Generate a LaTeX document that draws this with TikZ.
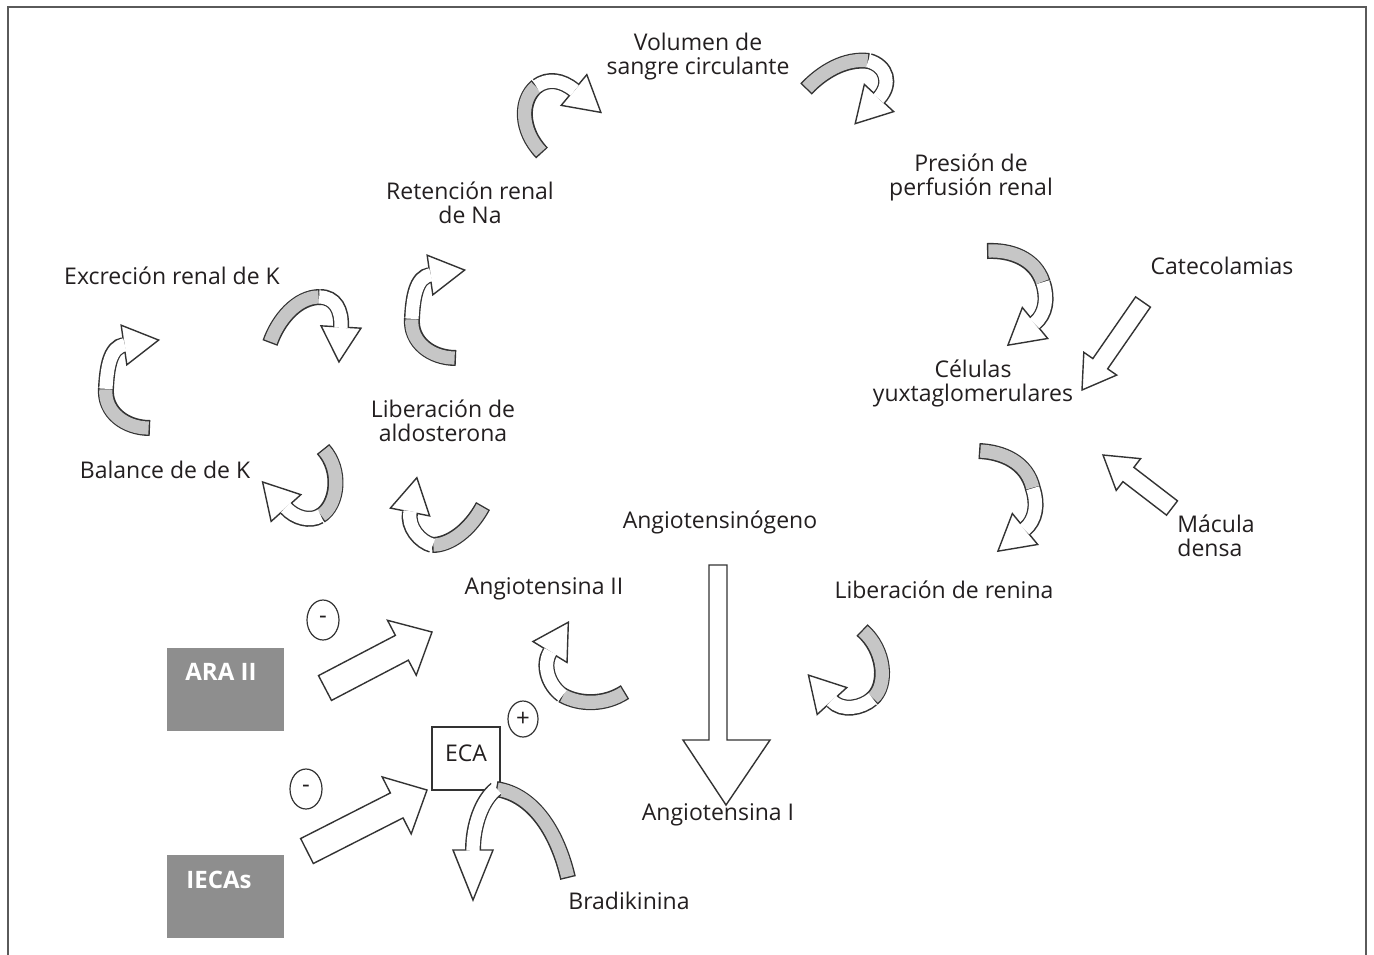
\documentclass[tikz,border=0pt]{standalone}
\usepackage{fontspec}
\setmainfont{Open Sans}
\usetikzlibrary{calc,shapes.geometric}
\definecolor{edgec}{HTML}{333333}
\definecolor{bandc}{HTML}{C6C6C6}
\definecolor{boxgray}{HTML}{8E8E8E}
\definecolor{txt}{HTML}{231F20}
\definecolor{framec}{HTML}{5A5A5A}
\newcommand\hlen{17.5pt}
\newcommand\hwid{10pt}
% curved ribbon arrow: S, c1, c2, M (gray part), c3, c4, B (white part + head)
\newcommand\carr[7]{%
  \draw[line width=8pt, edgec] (#1) .. controls (#2) and (#3) .. (#4);
  \draw[line width=6.6pt, bandc, shorten <=0.7pt, shorten >=0.7pt] (#1) .. controls (#2) and (#3) .. (#4);
  \draw[line width=8pt, edgec] (#4) .. controls (#5) and (#6) .. (#7);
  \draw[fill=white, draw=edgec, line width=0.7pt, line join=miter]
    ($(#7)!\hwid!90:(#6)$) -- ($(#7)!-\hlen!(#6)$) -- ($(#7)!\hwid!-90:(#6)$) -- cycle;
  \draw[line width=6.6pt, white, shorten <=-0.4pt, shorten >=-0.4pt] (#4) .. controls (#5) and (#6) .. (#7);
}
% straight block arrow: x1,y1 -> tip x2,y2, shaft half, head half, head length
\newcommand\sarr[7]{%
  \pgfmathsetmacro\sadx{#3-#1}%
  \pgfmathsetmacro\sady{#4-#2}%
  \pgfmathsetmacro\sal{veclen(\sadx,\sady)}%
  \pgfmathsetmacro\saux{\sadx/\sal}%
  \pgfmathsetmacro\sauy{\sady/\sal}%
  \pgfmathsetmacro\sabx{#3-#7*\saux}%
  \pgfmathsetmacro\saby{#4-#7*\sauy}%
  \draw[blockarr] ({#1+#5*\sauy},{#2-#5*\saux}) -- ({\sabx+#5*\sauy},{\saby-#5*\saux})
    -- ({\sabx+#6*\sauy},{\saby-#6*\saux}) -- (#3,#4) -- ({\sabx-#6*\sauy},{\saby+#6*\saux})
    -- ({\sabx-#5*\sauy},{\saby+#5*\saux}) -- ({#1-#5*\sauy},{#2+#5*\saux}) -- cycle;
}
\begin{document}
\begin{tikzpicture}[x=0.5pt,y=-0.5pt,
  lbl/.style={font=\fontsize{11.5}{12}\selectfont, text=txt, align=center, inner sep=0pt},
  boxlbl/.style={font=\fontsize{12}{14}\selectfont\bfseries, text=white, inner sep=0pt},
  graybox/.style={fill=boxgray, draw=none, minimum width=58.5pt, minimum height=41.5pt, inner sep=0pt},
  blockarr/.style={draw=edgec, fill=white, line width=0.7pt, line join=miter},
  sign/.style={draw=edgec, line width=0.6pt, ellipse, inner sep=0pt, font=\fontsize{12}{14}\selectfont, text=txt}]
\useasboundingbox (0,0) rectangle (1374,954);
\fill[white] (0,0) rectangle (1374,954);
\draw[framec, line width=1pt] (8,960) -- (8,7) -- (1366,7) -- (1366,960);

% texts
\node[lbl] (vol) at (698,57) {Volumen de\\sangre circulante};
\node[lbl] (pres) at (971,177) {Presión de\\perfusión renal};
\node[lbl] (ret) at (470,203) {Retención renal\\de Na};
\node[lbl] (exc) at (172,276) {Excreción renal de K};
\node[lbl] (cat) at (1222,266) {Catecolamias};
\node[lbl] (cel) at (973,383) {Células\\yuxtaglomerulares};
\node[lbl] (lib) at (443,421) {Liberación de\\aldosterona};
\node[lbl] (bal) at (165,470) {Balance de de K};
\node[lbl] (agn) at (720,522) {Angiotensinógeno};
\node[lbl, align=left, anchor=west] (mac) at (1177,536) {Mácula\\densa};
\node[lbl] (a2) at (544,589) {Angiotensina II};
\node[lbl] (ren) at (944,590) {Liberación de renina};
\node[lbl] (a1) at (718,815) {Angiotensina I};
\node[lbl] (bra) at (629,901) {Bradikinina};

% gray boxes
\node[graybox] (ara) at (225.5,689) {};
\node[boxlbl, anchor=west] (aralbl) at (185,672) {ARA II};
\node[graybox] (iec) at (225.5,896.5) {};
\node[boxlbl, anchor=west] (ieclbl) at (186,880) {IECAs};

% ECA box
\node[draw=edgec, fill=white, line width=0.7pt, minimum width=34pt, minimum height=31.5pt, inner sep=0pt] (eca) at (466,758.5) {};
\node[lbl] (ecat) at (466,753) {ECA};

% signs
\node[sign, minimum width=16pt, minimum height=20pt] (s1) at (323,620) {-};
\node[sign, minimum width=16pt, minimum height=20pt] (s2) at (306,789) {-};
\node[sign, minimum width=15pt, minimum height=18pt] (s3) at (523,719) {+};

% straight block arrows
\sarr{1143}{302}{1082}{390}{9}{20}{32}
\sarr{1172}{508}{1103}{455}{9}{20}{32}
\sarr{325}{688}{432}{632}{14}{31}{34}
\sarr{307}{851}{427}{790}{14}{32}{34}
\draw[blockarr] (709,565) -- (727,565) -- (727,740) -- (770,740) -- (726,805) -- (683,740) -- (709,740) -- cycle;

% curved arrows
\carr{542,153}{520,130}{520,100}{537,86}{548,78}{562,80}{574,90}
\carr{806,89}{822,72}{845,58}{869,61}{887,66}{892,84}{879,98}
\carr{987,251}{1010,250}{1035,258}{1043,283}{1048,298}{1046,314}{1035,323}
\carr{979,451}{1002,452}{1027,462}{1033,489}{1038,504}{1036,520}{1025,529}
\carr{862,630}{885,650}{888,685}{872,699}{862,708}{842,712}{832,701}
\carr{625,692}{605,705}{580,705}{562,695}{548,685}{542,665}{550,652}
\carr{483,506}{470,530}{450,545}{432,545}{420,542}{407,527}{410,512}
\carr{323,449}{342,470}{338,505}{320,516}{310,522}{295,518}{286,508}
\carr{150,428}{125,428}{104,412}{106,388}{107,368}{110,347}{124,345}
\carr{270,343}{278,320}{297,297}{320,297}{335,297}{342,310}{341,327}
\carr{456,358}{431,358}{410,342}{412,318}{413,298}{416,277}{430,275}
\renewcommand\hlen{25pt}
\carr{568,878}{558,835}{535,795}{496,789}{482,800}{473,825}{473,850}
\end{tikzpicture}
\end{document}
